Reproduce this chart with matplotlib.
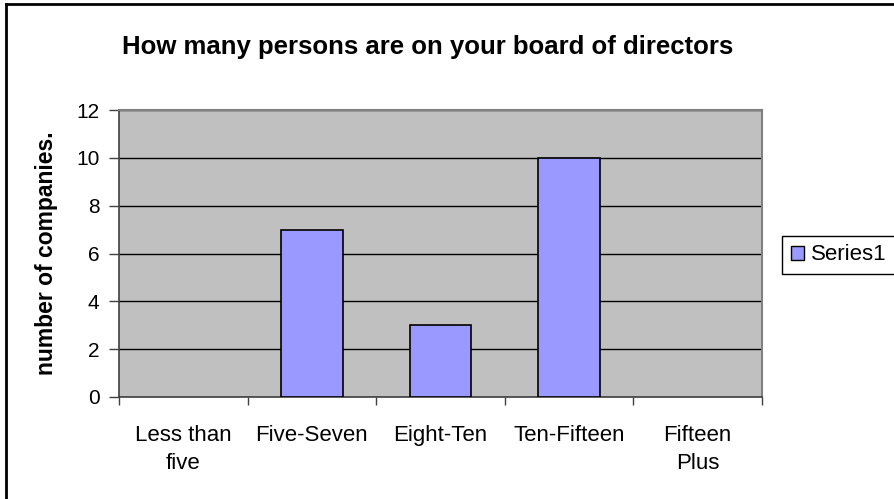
import matplotlib
matplotlib.use("Agg")
import matplotlib.pyplot as plt
from matplotlib.patches import Patch
from matplotlib.lines import Line2D

categories = ["Less than\nfive", "Five-Seven", "Eight-Ten", "Ten-Fifteen", "Fifteen\nPlus"]
values = [0, 7, 3, 10, 0]
yticks = [0, 2, 4, 6, 8, 10, 12]
title = "How many persons are on your board of directors"
ylabel = "number of companies."
series_name = "Series1"

plt.rcParams['font.family'] = ['Liberation Sans', 'DejaVu Sans']

fig = plt.figure(figsize=(8.95, 4.99), dpi=100)
fig.patch.set_facecolor('white')
W, H = 895, 499
ax = fig.add_axes([119 / W, 1 - 397 / H, (762 - 119) / W, (397 - 110) / H])
ax.set_facecolor('#C0C0C0')

x = list(range(len(categories)))
bars = ax.bar(x, values, width=0.48, color='#9999FF', edgecolor='black', linewidth=1.2, zorder=3,
              label=series_name)
for b, v in zip(bars, values):
    if v == 0:
        b.set_visible(False)

ax.set_xlim(-0.5, len(categories) - 0.5)
ax.set_ylim(0, 12)
ax.set_yticks(yticks)
ax.set_yticklabels([str(v) for v in yticks], fontsize=15)
ax.yaxis.grid(True, color='black', linewidth=1.0, zorder=1)
ax.set_axisbelow(True)

ax.set_xticks(x)
ax.set_xticklabels(categories, fontsize=16, linespacing=1.45)
ax.set_xticks([i - 0.5 for i in range(len(categories) + 1)], minor=True)
ax.tick_params(axis='x', which='major', length=0, pad=20)
ax.tick_params(axis='x', which='minor', length=6, width=1, color='#404040', direction='out')
ax.tick_params(axis='y', length=7, width=1, color='#404040', direction='out', pad=7)

for s in ['top', 'right']:
    ax.spines[s].set_color('#808080')
    ax.spines[s].set_linewidth(1.5)
for s in ['left', 'bottom']:
    ax.spines[s].set_color('#404040')
    ax.spines[s].set_linewidth(1.2)

ax.yaxis.set_label_coords(-72 / (762 - 119), 0.5)
ax.set_ylabel(ylabel, fontsize=16.5, fontweight='bold', va='center')

fig.text(428 / W, 1 - 47 / H, title, ha='center', va='center', fontsize=18.5, fontweight='bold')

leg = fig.legend(handles=[Patch(facecolor='#9999FF', edgecolor='black', linewidth=1, label=series_name)],
                 loc='center left', bbox_to_anchor=(782 / W, 1 - 255 / H), fontsize=16,
                 frameon=True, fancybox=False, framealpha=1, edgecolor='black',
                 handlelength=0.6, handleheight=0.6, handletextpad=0.3, borderpad=0.4,
                 borderaxespad=0)
leg.get_frame().set_linewidth(1.0)

# outer chart border (only left and top visible in crop)
fig.add_artist(Line2D([6 / W, 6 / W], [0, 1 - 3.5 / H], transform=fig.transFigure, color='black', linewidth=2))
fig.add_artist(Line2D([6 / W, 1], [1 - 3.5 / H, 1 - 3.5 / H], transform=fig.transFigure, color='black', linewidth=2))

fig.savefig('out.png', dpi=100)
